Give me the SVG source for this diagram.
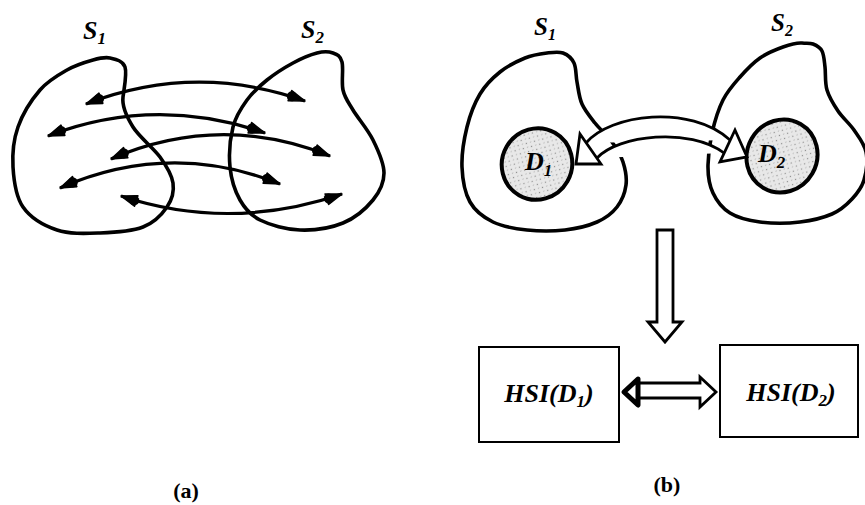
<svg xmlns="http://www.w3.org/2000/svg" width="865" height="505" viewBox="0 0 865 505">
  <style>
    .blob { fill: none; stroke: #000; stroke-width: 3.6; stroke-linejoin: round; }
    .link { fill: none; stroke: #000; stroke-width: 3.2; marker-start: url(#head); marker-end: url(#head); }
    .region { fill: url(#stipple); stroke: #000; stroke-width: 4; }
    .hollow { fill: #fff; stroke: #000; stroke-width: 2.8; stroke-linejoin: miter; }
    .box { fill: #fff; stroke: #000; stroke-width: 2; }
    .lbl { font-family: "Liberation Serif", "Times New Roman", serif; font-style: italic; font-weight: bold; fill: #000; }
    .cap { font-family: "Liberation Serif", "Times New Roman", serif; font-weight: bold; font-size: 22px; fill: #000; text-anchor: middle; }
  </style>
  <defs>
    <marker id="head" viewBox="0 0 20 14" refX="19" refY="7" markerWidth="20" markerHeight="14" markerUnits="userSpaceOnUse" orient="auto-start-reverse">
      <path d="M3,1.5 L19,7 L3,12.5 Z" fill="#000" stroke="#000" stroke-width="1.5" stroke-linejoin="round"/>
      <circle cx="5" cy="7" r="5" fill="#000"/>
    </marker>
    <pattern id="stipple" width="6" height="6" patternUnits="userSpaceOnUse">
      <rect width="6" height="6" fill="#e8e8e8"/>
      <circle cx="1.5" cy="1.5" r="0.7" fill="#8a8a8a"/>
      <circle cx="4.5" cy="4" r="0.6" fill="#a0a0a0"/>
    </pattern>
  </defs>

  <!-- (a) two overlapping sets with point correspondences -->
  <g id="a-S1">
    <path class="blob" d="M 110,58 C 115.3,59.2 122.8,60.5 125,67 C 127.2,73.5 124.3,87 123,97 C 121.7,107 126.8,117 133,127 C 139.2,137 153.3,147.7 160,157 C 166.7,166.3 171.8,174.7 173,183 C 174.2,191.3 172,199.7 167,207 C 162,214.3 154.2,222.7 143,227 C 131.8,231.3 114.3,232.5 100,233 C 85.7,233.5 69.8,234.3 57,230 C 44.2,225.7 30.3,217.5 23,207 C 15.7,196.5 13.8,180.3 13,167 C 12.2,153.7 13.5,139.8 18,127 C 22.5,114.2 31.8,99.5 40,90 C 48.2,80.5 58.2,75 67,70 C 75.8,65 85.8,62 93,60 C 100.2,58 104.7,56.8 110,58 Z"/>
    <text class="lbl" x="83" y="39" font-size="26" font-weight="normal">S<tspan font-size="17" dy="5">1</tspan></text>
  </g>
  <g id="a-S2">
    <path class="blob" d="M 333,53 C 337.2,54.5 340.3,55.8 342,62 C 343.7,68.2 341.2,82 343,90 C 344.8,98 348,101.7 353,110 C 358,118.3 367.8,129.5 373,140 C 378.2,150.5 384,163 384,173 C 384,183 379.8,191.7 373,200 C 366.2,208.3 355.2,218 343,223 C 330.8,228 313.8,230.5 300,230 C 286.2,229.5 270,225 260,220 C 250,215 245,208.8 240,200 C 235,191.2 231.2,179.2 230,167 C 228.8,154.8 230.2,138.2 233,127 C 235.8,115.8 241.3,107.8 247,100 C 252.7,92.2 259.3,86.2 267,80 C 274.7,73.8 284.7,67.5 293,63 C 301.3,58.5 310.3,54.7 317,53 C 323.7,51.3 328.8,51.5 333,53 Z"/>
    <text class="lbl" x="301" y="38" font-size="26" font-weight="normal">S<tspan font-size="17" dy="5">2</tspan></text>
  </g>
  <g id="a-links">
    <path class="link" d="M 86,104 Q 195,62 305,101"/>
    <path class="link" d="M 48,136 Q 155,95 265,133"/>
    <path class="link" d="M 111,159 Q 220,112 330,156"/>
    <path class="link" d="M 60,188 Q 170,140 280,184"/>
    <path class="link" d="M 121,196 Q 230,232 342,194"/>
  </g>
  <text class="cap" x="186" y="498">(a)</text>

  <!-- (b) sets with dense regions, mapped to HSI descriptors -->
  <g id="b-S1">
    <path class="blob" d="M 547,53 C 553.3,52.2 558.5,51.3 563,53 C 567.5,54.7 571.7,58.2 574,63 C 576.3,67.8 575.7,75.2 577,82 C 578.3,88.8 579,97.2 582,104 C 585,110.8 590,116.7 595,123 C 600,129.3 607.3,135.5 612,142 C 616.7,148.5 620.7,154.8 623,162 C 625.3,169.2 627,177.5 626,185 C 625,192.5 621.8,200.8 617,207 C 612.2,213.2 605.7,218.2 597,222 C 588.3,225.8 576.7,228.7 565,230 C 553.3,231.3 539,231.3 527,230 C 515,228.7 502.5,226.7 493,222 C 483.5,217.3 475.2,211.2 470,202 C 464.8,192.8 462.5,179.5 462,167 C 461.5,154.5 464,139.2 467,127 C 470,114.8 474.5,103.2 480,94 C 485.5,84.8 492.5,78 500,72 C 507.5,66 517.2,61.2 525,58 C 532.8,54.8 540.7,53.8 547,53 Z"/>
    <text class="lbl" x="534" y="35" font-size="25" font-weight="normal">S<tspan font-size="16" dy="5">1</tspan></text>
  </g>
  <g id="b-D1">
    <ellipse class="region" cx="537" cy="164" rx="35" ry="36" transform="rotate(30 537 164)"/>
    <text class="lbl" x="525" y="170" font-size="26">D<tspan font-size="17" dy="6">1</tspan></text>
  </g>
  <g id="b-S2">
    <path class="blob" d="M 813,44 C 816.3,45.3 820,47.2 822,51 C 824,54.8 824.2,60.5 825,67 C 825.8,73.5 824.8,82.7 827,90 C 829.2,97.3 833.5,104.3 838,111 C 842.5,117.7 849.3,123.2 854,130 C 858.7,136.8 864.3,143.7 866,152 C 867.7,160.3 866.3,172.2 864,180 C 861.7,187.8 857.3,193.3 852,199 C 846.7,204.7 840.7,210.2 832,214 C 823.3,217.8 812,220.5 800,222 C 788,223.5 771.7,223.5 760,222 C 748.3,220.5 737.8,217.8 730,213 C 722.2,208.2 716.7,201 713,193 C 709.3,185 707.8,175 708,165 C 708.2,155 709.5,143.8 712,133 C 714.5,122.2 718.3,109.3 723,100 C 727.7,90.7 733.8,84 740,77 C 746.2,70 752.8,63 760,58 C 767.2,53 776,49.5 783,47 C 790,44.5 797,42.5 802,43 C 807,43.5 809.7,42.7 813,44 Z"/>
    <text class="lbl" x="771" y="31" font-size="25" font-weight="normal">S<tspan font-size="16" dy="5">2</tspan></text>
  </g>
  <g id="b-D2">
    <ellipse class="region" cx="782" cy="156" rx="35" ry="37" transform="rotate(30 782 156)"/>
    <text class="lbl" x="758" y="162" font-size="26">D<tspan font-size="17" dy="6">2</tspan></text>
  </g>
  <g id="box-HSI1">
    <rect class="box" x="479" y="347" width="140" height="95"/>
    <text class="lbl" x="549" y="402" font-size="26" text-anchor="middle">HSI(D<tspan font-size="17" dy="5">1</tspan><tspan dy="-5">)</tspan></text>
  </g>
  <g id="box-HSI2">
    <rect class="box" x="720" y="345" width="138" height="92"/>
    <text class="lbl" x="791" y="401" font-size="26" text-anchor="middle">HSI(D<tspan font-size="17" dy="5">2</tspan><tspan dy="-5">)</tspan></text>
  </g>

  <g id="b-connectors">
    <!-- curved hollow double arrow between D1 and D2 -->
    <path class="hollow" fill="none" d="M 586,143 C 610,114 690,104 730,140"/>
    <path class="hollow" fill="none" d="M 597,158 C 618,135 690,127 724,153"/>
    <path class="hollow" fill="none" d="M 580,134 L 576,164 L 601,164 Z"/>
    <path class="hollow" fill="none" d="M 735,130 L 720,162 L 747,157 Z"/>
    <!-- downward hollow arrow -->
    <path class="hollow" d="M 657,322 V 230 H 673 V 322 H 682 L 665,342 L 648,322 Z"/>
    <!-- horizontal double arrow between descriptor boxes -->
    <path class="hollow" d="M 637,383 H 700 V 377 L 716,392 L 700,407 V 398 H 637 Z"/>
    <path d="M 638,379 L 624,392 L 638,405 Z" fill="#fff" stroke="#000" stroke-width="5" stroke-linejoin="round"/>
  </g>
  <text class="cap" x="667" y="492">(b)</text>
</svg>
